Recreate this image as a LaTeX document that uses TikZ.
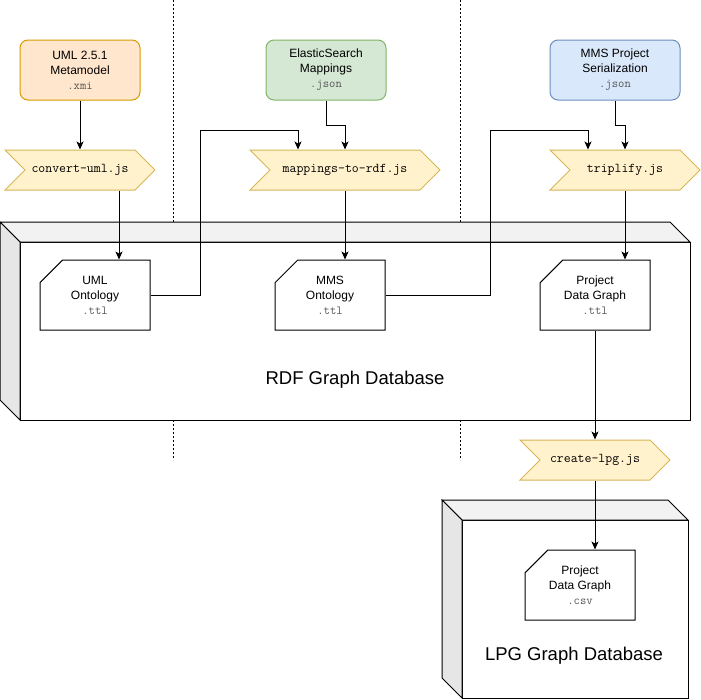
\documentclass[tikz,border=0pt]{standalone}
\usepackage{fontspec}
\setmainfont{Liberation Sans}
\setmonofont[Scale=1.12]{Latin Modern Mono}
\usetikzlibrary{shapes.misc,shapes.symbols,arrows.meta}
\definecolor{umlfill}{HTML}{FFE6CC}\definecolor{umldraw}{HTML}{D79B00}
\definecolor{esfill}{HTML}{D5E8D4}\definecolor{esdraw}{HTML}{82B366}
\definecolor{mmsfill}{HTML}{DAE8FC}\definecolor{mmsdraw}{HTML}{6C8EBF}
\definecolor{stepfill}{HTML}{FFF2CC}\definecolor{stepdraw}{HTML}{D6B656}
\definecolor{extgray}{HTML}{555555}
\definecolor{cubetop}{HTML}{F2F2F2}\definecolor{cubeside}{HTML}{E6E6E6}
\newcommand{\fileext}[1]{{\fontsize{11}{15}\selectfont\ttfamily\color{extgray}#1}}

\begin{document}
\begin{tikzpicture}[x=1pt, y=-1pt, line width=1pt,
    font=\fontsize{12}{15}\selectfont,
    source/.style = {draw, rounded corners=8pt, minimum width=120pt, minimum height=60pt, align=center},
    script/.style = {signal, signal to=east, signal from=west, signal pointer angle=90,
        draw=stepdraw, fill=stepfill, minimum height=40pt, inner sep=0pt, font=\fontsize{12}{15}\selectfont\ttfamily},
    card/.style = {chamfered rectangle, chamfered rectangle corners=north west,
        chamfered rectangle xsep=30pt, draw, fill=white, minimum width=110pt, minimum height=70pt, inner sep=0pt, align=center},
    arrow/.style = {-{Stealth[length=8pt, width=7pt, inset=2pt]}},
    lane/.style = {line width=0.8pt, dash pattern=on 2pt off 2pt}]
\useasboundingbox (0,0) rectangle (701,699);

% lanes
\draw[lane] (173,0) -- (173,460);
\draw[lane] (460,0) -- (460,460);

% RDF cube
\draw[fill=white] (20,242) rectangle (690,420);
\draw[fill=cubetop] (0,222) -- (670,222) -- (690,242) -- (20,242) -- cycle;
\draw[fill=cubeside] (0,222) -- (20,242) -- (20,420) -- (0,400) -- cycle;
\node[font=\fontsize{18.5}{22}\selectfont] (rdfdb) at (355,380) {RDF Graph Database};

% LPG cube
\draw[fill=white] (462,520) rectangle (688,698);
\draw[fill=cubetop] (442,500) -- (668,500) -- (688,520) -- (462,520) -- cycle;
\draw[fill=cubeside] (442,500) -- (462,520) -- (462,698) -- (442,678) -- cycle;
\node[font=\fontsize{18.5}{22}\selectfont] (lpgdb) at (574,656) {LPG Graph Database};

% sources
\node[source, draw=umldraw, fill=umlfill] (umlsrc) at (80,70) {UML 2.5.1\\Metamodel\\\fileext{.xmi}};
\node[source, draw=esdraw, fill=esfill] (essrc) at (326,70) {ElasticSearch\\Mappings\\\fileext{.json}};
\node[source, draw=mmsdraw, fill=mmsfill, minimum width=130pt] (mmssrc) at (615,70) {MMS Project\\Serialization\\\fileext{.json}};

% scripts
\node[script, minimum width=150pt] (convuml) at (80,170) {convert-uml.js};
\node[script, minimum width=190pt] (mapsrdf) at (345,170) {mappings-to-rdf.js};
\node[script, minimum width=150pt] (triplify) at (625,170) {triplify.js};
\node[script, minimum width=150pt] (createlpg) at (595,460) {create-lpg.js};

% graphs
\node[card] (umlont) at (95,295) {UML\\Ontology\\\fileext{.ttl}};
\node[card] (mmsont) at (330,295) {MMS\\Ontology\\\fileext{.ttl}};
\node[card] (pdgttl) at (595,295) {Project\\Data Graph\\\fileext{.ttl}};
\node[card] (pdgcsv) at (580,585) {Project\\Data Graph\\\fileext{.csv}};

% flow
\draw[arrow] (umlsrc) -- (convuml);
\draw[arrow] ([xshift=24pt]umlont.north |- convuml.south) -- ([xshift=24pt]umlont.north);
\draw[arrow] (umlont.east) -| (200,130) -| ([xshift=-47pt]mapsrdf.north);
\draw[arrow] (essrc.south) -- ++(0,25) -| (mapsrdf.north);
\draw[arrow] (mapsrdf.south) -- (mapsrdf.south |- mmsont.north);
\draw[arrow] (mmsont.east) -| (490,130) -| ([xshift=-37pt]triplify.north);
\draw[arrow] (mmssrc.south) -- ++(0,25) -| (triplify.north);
\draw[arrow] (triplify.south) -- (triplify.south |- pdgttl.north);
\draw[arrow] (pdgttl.south) -- (createlpg.north);
\draw[arrow] (createlpg.south) -- (createlpg.south |- pdgcsv.north);
\end{tikzpicture}
\end{document}
